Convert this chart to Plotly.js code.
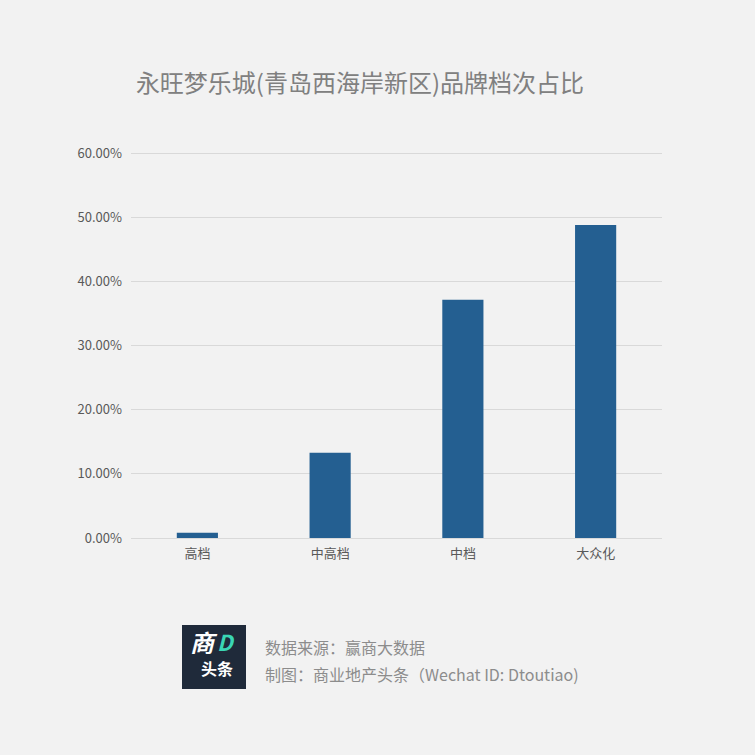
<!DOCTYPE html>
<html>
<head>
<meta charset="utf-8">
<script src="https://cdn.plot.ly/plotly-3.0.1.min.js"></script>
<style>html,body{margin:0;padding:0;background:#f2f2f2;}#chart{width:755px;height:755px;}</style>
</head>
<body>
<div id="chart"></div>
<script>
const categories = ['高档', '中高档', '中档', '大众化'];
const shares = [0.0083, 0.1328, 0.3712, 0.4877];
const yTicks = [0, 0.1, 0.2, 0.3, 0.4, 0.5, 0.6];
const titleText = '永旺梦乐城(青岛西海岸新区)品牌档次占比';
const sourceLine = '数据来源：赢商大数据';
const creditLine = '制图：商业地产头条（Wechat ID: Dtoutiao)';

const W = 755, H = 755;
const M = {l: 131, r: 93, t: 150, b: 217};
const pw = W - M.l - M.r, ph = H - M.t - M.b;
const px = x => (x - M.l) / pw;
const py = y => (H - M.b - y) / ph;
const FONT = '"Noto Sans CJK SC", "Microsoft YaHei", sans-serif';

const trace = {
  type: 'bar',
  x: categories,
  y: shares,
  marker: {color: '#245f91'},
  hoverinfo: 'none'
};

const layout = {
  width: W, height: H,
  margin: M,
  paper_bgcolor: '#f2f2f2',
  plot_bgcolor: '#f2f2f2',
  showlegend: false,
  bargap: 0.69,
  font: {family: FONT, color: '#595959', size: 13},
  title: {
    text: titleText,
    font: {family: FONT, size: 24, color: '#808080'},
    x: px(360), xref: 'paper', xanchor: 'center',
    y: 1 - 84 / H, yanchor: 'middle'
  },
  xaxis: {
    type: 'category',
    showgrid: false,
    showline: false,
    zeroline: false,
    ticks: '',
    ticklabelstandoff: 6,
    tickfont: {family: FONT, size: 13, color: '#595959'}
  },
  yaxis: {
    range: [0, 0.6 * 388 / 385],
    tickvals: yTicks,
    tickformat: '.2%',
    showgrid: true,
    gridcolor: '#d9d9d9',
    gridwidth: 1,
    zeroline: true,
    zerolinecolor: '#d9d9d9',
    zerolinewidth: 1,
    showline: false,
    ticks: '',
    ticklabelstandoff: 8,
    tickfont: {family: FONT, size: 13, color: '#595959'}
  },
  shapes: [{
    type: 'rect', xref: 'paper', yref: 'paper',
    x0: px(182), x1: px(246), y0: py(689), y1: py(625),
    fillcolor: '#1f2a3a', line: {width: 0}
  }],
  annotations: [
    {text: '<b><i>商</i></b>', xref: 'paper', yref: 'paper', x: px(204), y: py(641),
     xanchor: 'center', yanchor: 'middle', showarrow: false,
     font: {family: FONT, size: 24, color: '#ffffff'}},
    {text: '<b><i>D</i></b>', xref: 'paper', yref: 'paper', x: px(226), y: py(641),
     xanchor: 'center', yanchor: 'middle', showarrow: false,
     font: {family: FONT, size: 22, color: '#3ad6b4'}},
    {text: '<b>头条</b>', xref: 'paper', yref: 'paper', x: px(217), y: py(668),
     xanchor: 'center', yanchor: 'middle', showarrow: false,
     font: {family: FONT, size: 16, color: '#ffffff'}},
    {text: sourceLine, xref: 'paper', yref: 'paper', x: px(263), y: py(647),
     xanchor: 'left', yanchor: 'middle', showarrow: false,
     font: {family: FONT, size: 16, color: '#8c8c8c'}},
    {text: creditLine, xref: 'paper', yref: 'paper', x: px(263), y: py(674),
     xanchor: 'left', yanchor: 'middle', showarrow: false,
     font: {family: FONT, size: 16, color: '#8c8c8c'}}
  ]
};

Plotly.newPlot('chart', [trace], layout, {displayModeBar: false, staticPlot: true});
</script>
</body>
</html>
